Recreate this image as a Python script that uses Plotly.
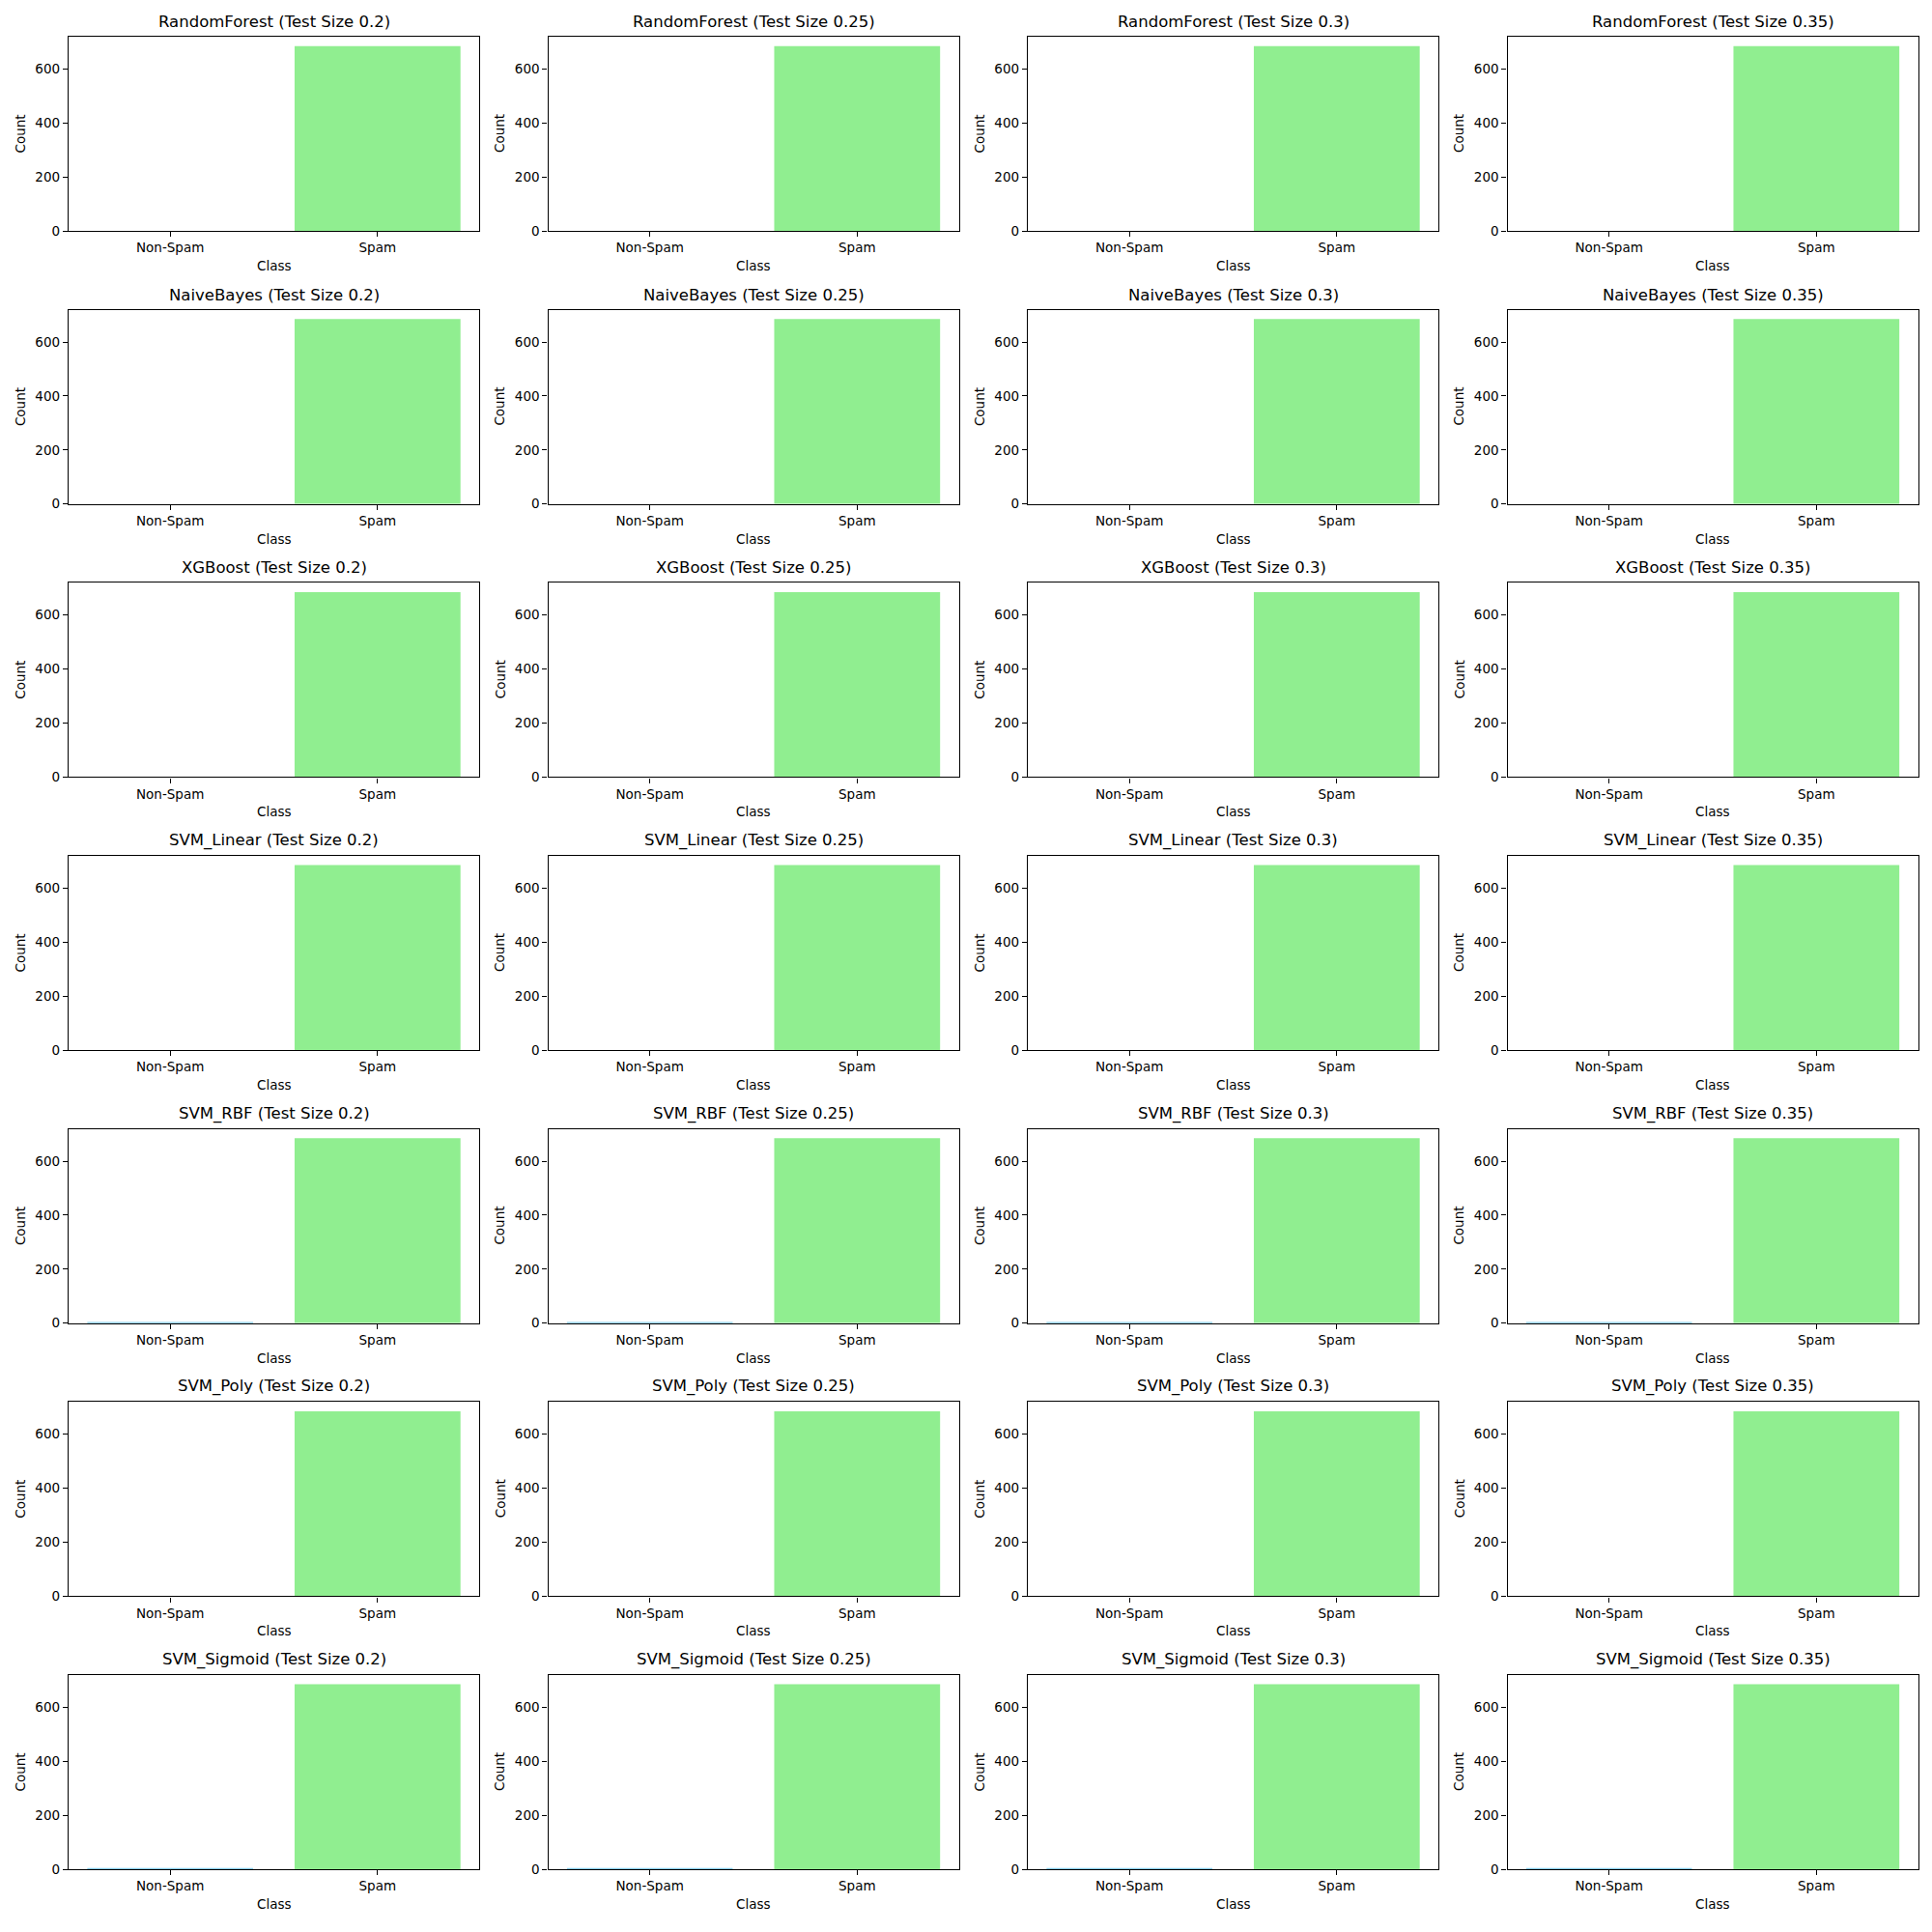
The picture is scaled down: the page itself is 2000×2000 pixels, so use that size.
import plotly.graph_objects as go

models = ["RandomForest", "NaiveBayes", "XGBoost", "SVM_Linear", "SVM_RBF", "SVM_Poly", "SVM_Sigmoid"]
test_sizes = ["0.2", "0.25", "0.3", "0.35"]
classes = ["Non-Spam", "Spam"]
nonspam_counts = [0, 0, 0, 0, 3, 0, 2]
spam_counts = [685, 685, 685, 685, 685, 685, 685]
bar_colors = ["#87CEEB", "#90EE90"]

W = H = 2000
ax_left0, ax_w, col_pitch = 71, 425, 496.5
ax_top0, ax_h, row_pitch = 38, 202, 283.8

font = "DejaVu Sans"
fig = go.Figure()
annotations = []
layout_axes = {}

k = 0
for r, m in enumerate(models):
    for c, ts in enumerate(test_sizes):
        k += 1
        xa = "x" if k == 1 else f"x{k}"
        ya = "y" if k == 1 else f"y{k}"
        left = ax_left0 + c * col_pitch
        right = left + ax_w
        top = ax_top0 + r * row_pitch
        bottom = top + ax_h
        xd = [left / W, right / W]
        yd = [1 - bottom / H, 1 - top / H]
        fig.add_trace(go.Bar(
            x=classes, y=[nonspam_counts[r], spam_counts[r]],
            marker=dict(color=bar_colors, line=dict(width=0)),
            width=0.8, xaxis=xa, yaxis=ya, showlegend=False,
        ))
        axis_common = dict(showline=True, linecolor="black", linewidth=1.3, mirror=True,
                           ticks="outside", ticklen=5, tickwidth=1.1, tickcolor="black",
                           showgrid=False, zeroline=False,
                           tickfont=dict(family=font, size=13.5, color="black"))
        layout_axes["xaxis" if k == 1 else f"xaxis{k}"] = dict(
            domain=xd, anchor=ya, range=[-0.49, 1.49], type="category",
            categoryorder="array", categoryarray=classes, **axis_common)
        layout_axes["yaxis" if k == 1 else f"yaxis{k}"] = dict(
            domain=yd, anchor=xa, range=[0, 720], tickvals=[0, 200, 400, 600], **axis_common)
        cx = (left + right) / 2 / W
        annotations.append(dict(text=f"{m} (Test Size {ts})", x=cx, y=1 - top / H,
                                xref="paper", yref="paper", xanchor="center", yanchor="bottom",
                                yshift=4, showarrow=False,
                                font=dict(family=font, size=16.5, color="black")))
        annotations.append(dict(text="Class", x=cx, y=1 - (bottom + 36) / H,
                                xref="paper", yref="paper", xanchor="center", yanchor="middle",
                                showarrow=False, font=dict(family=font, size=13.5, color="black")))
        annotations.append(dict(text="Count", x=(left - 50) / W, y=1 - (top + bottom) / 2 / H,
                                xref="paper", yref="paper", xanchor="center", yanchor="middle",
                                textangle=-90, showarrow=False,
                                font=dict(family=font, size=13.5, color="black")))

fig.update_layout(width=W, height=H, margin=dict(l=0, r=0, t=0, b=0),
                  paper_bgcolor="white", plot_bgcolor="white",
                  annotations=annotations, bargap=0.2, **layout_axes)
fig.write_html("out.html")
